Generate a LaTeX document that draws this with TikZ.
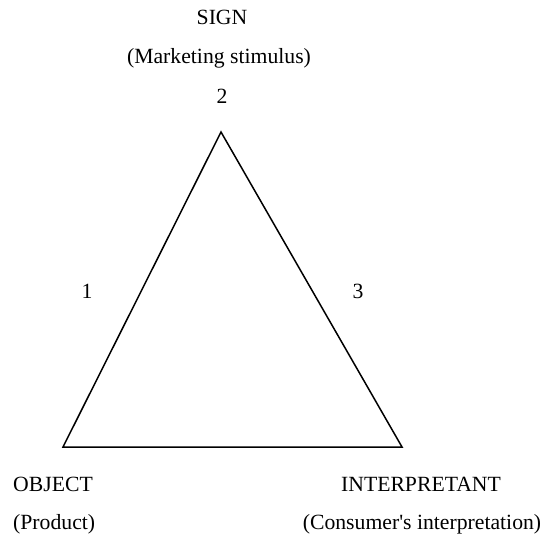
\documentclass[tikz,border=0pt]{standalone}
\usepackage{fontspec}
\setmainfont{Liberation Serif}
\usetikzlibrary{calc}

\begin{document}
\begin{tikzpicture}[
  x=1pt,y=1pt,font=\fontsize{21.7}{26}\selectfont,
  label/.style={anchor=base,inner sep=0pt},
  leftlabel/.style={anchor=base west,inner sep=0pt},
  side/.style={draw=black,line width=1.5pt,line join=miter}
]
\path[use as bounding box] (0,0) rectangle (553,-537);
% vertices
\coordinate (top) at (221,-132);
\coordinate (left) at (63,-447);
\coordinate (right) at (402,-447);
\draw[side] (top) -- (left) -- (right) -- cycle;

\node[label] (sign) at (222,-25) {SIGN};
\node[label] (stim) at (219,-64) {(Marketing stimulus)};
\node[label] (two) at (222,-104) {2};
\node[label] (one) at (87,-298) {1};
\node[label] (three) at (358,-298) {3};

\node[leftlabel] (object) at (13,-491) {OBJECT};
\node[leftlabel] (product) at (13,-529) {(Product)};
\node[label] (interp) at (421,-491) {INTERPRETANT};
\node[label] (consumer) at (422,-529) {(Consumer\textquotesingle s interpretation)};
\end{tikzpicture}
\end{document}
